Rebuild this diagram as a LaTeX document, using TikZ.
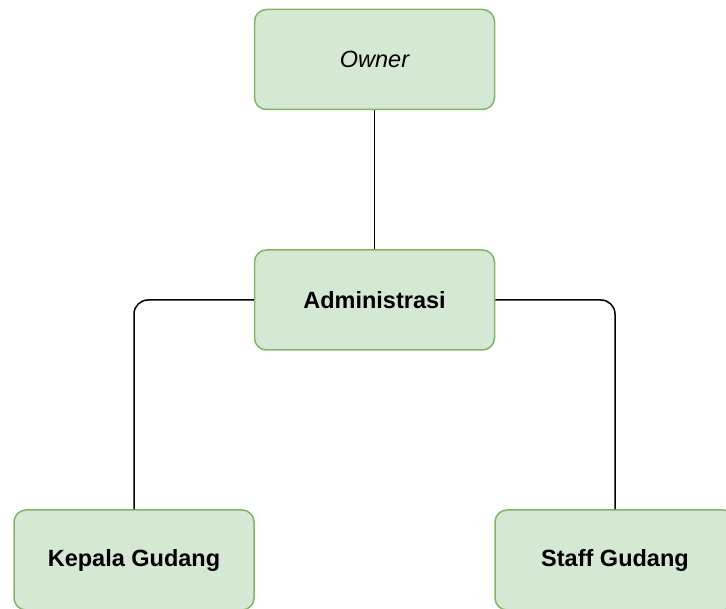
\documentclass[tikz,border=0pt]{standalone}
\usepackage{fontspec}
\setmainfont{Liberation Sans}
\definecolor{boxfill}{HTML}{D5E8D4}
\definecolor{boxline}{HTML}{82B366}
\begin{document}
\begin{tikzpicture}[x=1pt,y=-1pt,
  orgbox/.style={draw=boxline,fill=boxfill,line width=1.5pt,rounded corners=12pt,
    minimum width=240pt,minimum height=100pt,inner sep=0pt,
    font=\fontsize{23.5}{28}\selectfont},
  link/.style={draw=black,line width=1.5pt,rounded corners=14pt}]
\useasboundingbox (0,0) rectangle (726,609);
\node[orgbox] (owner) at (374.5,59.5) {\itshape Owner};
\node[orgbox] (admin) at (374.5,300) {\bfseries Administrasi};
\node[orgbox] (kepala) at (134,560) {\bfseries Kepala Gudang};
\node[orgbox] (staff) at (615,560) {\bfseries Staff Gudang};
\draw[link] (owner.south) -- (admin.north);
\draw[link] (admin.west) -| (kepala.north);
\draw[link] (admin.east) -| (staff.north);
\end{tikzpicture}
\end{document}
